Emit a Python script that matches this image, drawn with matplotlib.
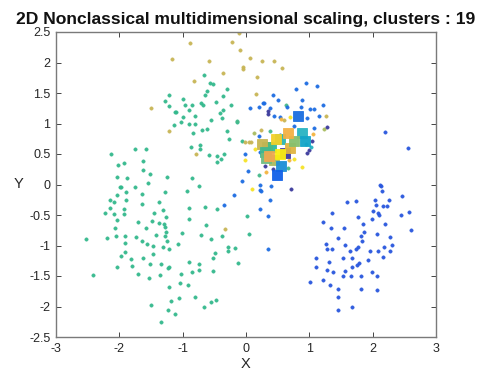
import matplotlib
matplotlib.use("Agg")
import matplotlib.pyplot as plt

plt.rcParams["font.family"] = ["Liberation Sans", "DejaVu Sans"]
plt.rcParams["axes.unicode_minus"] = False

title = "2D Nonclassical multidimensional scaling, clusters : 19"
x_ticks = [-3, -2, -1, 0, 1, 2, 3]
y_ticks = [-2.5, -2, -1.5, -1, -0.5, 0, 0.5, 1, 1.5, 2, 2.5]
x_tick_labels = ["-3", "-2", "-1", "0", "1", "2", "3"]
y_tick_labels = ["-2.5", "-2", "-1.5", "-1", "-0.5", "0", "0.5", "1", "1.5", "2", "2.5"]

# cluster member points (x, y)
green_pts = [
    (-1.22, 1.47), (-1.28, 1.37), (-0.99, 1.40), (-0.96, 1.31), (-1.21, 1.28), (-1.12, 1.19),
    (-1.10, 1.19), (-0.99, 1.11), (-1.03, 1.02), (-1.13, 0.97), (-1.75, 0.59), (-1.58, 0.59),
    (-2.13, 0.50), (-1.62, 0.39), (-2.02, 0.32), (-1.92, 0.35), (-1.63, 0.24), (-1.51, 0.18),
    (-2.04, 0.13), (-1.88, 0.11), (-1.25, 0.12), (-1.54, 0.02),
    (-0.67, 1.80), (-0.57, 1.66), (-0.52, 1.65), (-0.30, 1.56), (-0.61, 1.54), (-0.37, 1.45),
    (-0.65, 1.46), (-0.47, 1.36), (-0.86, 1.30), (-0.71, 1.34), (-0.68, 1.31), (-0.24, 1.30),
    (-0.90, 1.22), (-0.36, 1.22), (-0.41, 1.18), (-0.38, 1.09), (-0.80, 1.13), (-0.56, 1.05),
    (-0.14, 1.03), (-0.90, 0.99), (-0.81, 1.00), (-0.70, 0.90), (-0.61, 0.91), (-0.84, 0.84),
    (-0.30, 0.87), (-0.27, 0.75), (-0.06, 0.71), (-0.72, 0.65), (-0.73, 0.59), (-0.87, 0.62),
    (-0.59, 0.49), (-0.46, 0.47), (-0.34, 0.50), (-0.39, 0.42), (-0.46, 0.37), (-0.85, 0.11),
    (-1.99, -0.04), (-1.97, -0.04), (-1.76, -0.04), (-1.89, -0.12), (-1.28, -0.12), (-2.03, -0.18),
    (-1.65, -0.16), (-2.14, -0.25), (-2.08, -0.29), (-1.89, -0.25), (-1.38, -0.28), (-1.64, -0.32),
    (-2.14, -0.39), (-1.92, -0.40), (-1.31, -0.42), (-2.22, -0.47), (-2.08, -0.48), (-1.92, -0.49),
    (-1.46, -0.47), (-1.26, -0.54), (-2.03, -0.59), (-1.70, -0.61), (-1.49, -0.60), (-1.38, -0.63),
    (-1.30, -0.65), (-1.28, -0.69), (-1.58, -0.72), (-2.07, -0.72), (-1.26, -0.78), (-1.01, -0.79),
    (-1.42, -0.82), (-1.28, -0.84), (-2.52, -0.89), (-2.19, -0.87), (-2.05, -0.85), (-1.91, -0.85),
    (-1.73, -0.86), (-1.65, -0.93), (-1.24, -0.93), (-1.91, -0.96), (-1.56, -0.97), (-1.07, -0.98),
    (-1.47, -1.01), (-1.31, -1.03), (-1.21, -1.05), (-1.91, -1.10), (-1.47, -1.14), (-1.98, -1.18),
    (-1.82, -1.22), (-1.63, -1.20), (-1.51, -1.30), (-1.35, -1.30), (-2.03, -1.35), (-1.80, -1.34),
    (-1.23, -1.37), (-1.21, -1.35), (-1.71, -1.46), (-2.42, -1.48), (-1.36, -1.49), (-1.02, -1.47),
    (-1.53, -1.54), (-1.05, -1.62), (-1.21, -1.68), (-1.06, -1.86), (-1.19, -1.91), (-1.50, -1.97),
    (-1.23, -2.05), (-1.12, -2.12), (-1.35, -2.25),
    (-0.74, -0.02), (-0.93, -0.10), (-0.90, -0.38), (-0.64, -0.37), (-0.46, -0.40), (0.02, -0.52),
    (-0.90, -0.57), (-0.63, -0.66), (-0.71, -0.82), (-0.38, -0.84), (0.04, -0.81), (-0.55, -0.90),
    (-0.28, -1.03), (-0.17, -1.04), (-0.28, -1.09), (-0.49, -1.12), (-0.52, -1.20), (-0.13, -1.28),
    (-0.90, -1.27), (-0.75, -1.31), (-0.86, -1.43), (-0.75, -1.40), (-0.52, -1.41), (-0.92, -1.65),
    (-0.81, -1.84), (-0.56, -1.93), (-0.47, -1.90), (-0.66, -2.01),
]
teal_green_pts = [(0.63, 1.30), (0.38, 0.88), (0.66, 0.27), (-0.15, 1.04), (0.20, 0.16)]
olive_pts = [
    (-1.17, 2.06), (-1.50, 1.25), (-1.21, 0.88), (-0.11, 2.49), (-0.88, 2.32), (-0.22, 2.34),
    (-0.09, 2.20), (-0.58, 2.02), (0.06, 2.08), (0.26, 2.02), (0.44, 2.02), (-0.04, 1.93),
    (-0.05, 1.89), (0.57, 1.91), (-0.36, 1.82), (0.18, 1.77), (-0.82, 1.69), (0.16, 1.48),
    (-0.79, 0.50), (-0.02, 0.69), (0.23, 0.90), (1.27, 1.13), (-0.33, -0.73), (0.05, 0.69),
    (0.08, 0.70), (0.60, 1.05),
]
light_olive_pts = [(0.12, 0.84), (1.23, 0.91)]
blue_upper_pts = [
    (0.95, 1.66), (0.79, 1.57), (0.43, 1.46), (0.51, 1.38), (0.88, 1.38), (0.27, 1.34),
    (0.06, 1.25), (0.21, 1.27), (0.38, 1.25), (0.44, 1.12), (0.53, 1.10), (0.65, 1.27),
    (0.87, 1.27), (1.01, 1.23), (1.08, 1.23), (0.76, 0.96), (1.07, 0.93), (0.20, 0.80),
    (0.53, 0.81), (-0.02, 0.50), (0.22, 0.54), (0.03, 0.22), (-0.07, 0.06), (1.12, 1.61),
    (1.21, 1.31), (1.16, 1.13), (0.96, 1.09), (0.22, 0.00), (0.22, -0.09), (0.39, -0.02),
    (-0.19, -0.18), (-0.34, -0.34), (0.22, -0.40), (0.34, -0.52), (0.38, -0.25), (0.23, -0.10),
    (0.35, -1.06), (0.28, 1.34),
]
blue_lower_pts = [
    (2.13, -0.02), (2.14, -0.11), (2.47, -0.19), (1.59, -0.29), (1.73, -0.27), (2.03, -0.25),
    (2.26, -0.25), (2.06, -0.34), (2.17, -0.36), (2.23, -0.36), (2.01, -0.43), (2.08, -0.46),
    (2.10, -0.50), (2.57, -0.45), (2.45, -0.50), (1.35, -0.46), (1.77, -0.54), (1.99, -0.56),
    (1.21, -0.62), (1.84, -0.64), (2.19, -0.65), (1.34, -0.71), (1.55, -0.72), (2.61, -0.75),
    (1.86, -0.78), (2.07, -0.81), (1.82, -0.85), (2.28, -0.86), (1.46, -0.88), (1.83, -0.93),
    (1.27, -0.97), (1.57, -0.99), (2.30, -0.99), (1.77, -1.03), (1.73, -1.06), (2.18, -1.03),
    (1.28, -1.06), (1.35, -1.06), (1.64, -1.09), (1.95, -1.09), (2.08, -1.09), (2.28, -1.09),
    (2.16, -1.19), (1.11, -1.20), (1.53, -1.20), (1.67, -1.20), (1.92, -1.23), (1.31, -1.27),
    (1.78, -1.29), (1.75, -1.32), (1.67, -1.36), (1.11, -1.36), (1.28, -1.40), (1.37, -1.43),
    (1.56, -1.41), (1.99, -1.43), (1.53, -1.50), (1.66, -1.50), (1.81, -1.50), (2.07, -1.50),
    (1.21, -1.56), (1.32, -1.64), (1.45, -1.71), (1.81, -1.72), (2.07, -1.73), (1.46, -1.84),
    (1.45, -2.06), (1.67, -2.00), (1.01, -1.60), (2.19, 0.86), (2.55, 0.60), (2.12, 0.00),
]
navy_pts = [
    (0.34, 1.20), (0.34, 1.16), (1.28, 0.94), (1.04, 0.72), (0.99, 0.57), (0.96, 0.52),
    (0.71, -0.07), (0.63, 0.57), (0.30, 0.30), (0.43, 0.25),
]
yellow_pts = [
    (-0.01, 0.40), (0.09, -0.08), (0.89, 0.29), (0.76, 0.42), (0.14, 0.58), (0.70, 1.11),
]
orange_pts = [(0.55, 1.07), (0.32, 0.20), (0.68, 0.40), (1.06, 0.82)]
cyan_pts = [(1.02, 0.62), (0.95, 0.66)]

# cluster centroids (x, y) and their colours, drawn back to front
centroid_x = [0.62, 0.54, 0.40, 0.33, 0.82, 0.67, 0.88, 0.93, 0.75, 0.26, 0.47,
              0.30, 0.31, 0.37, 0.53, 0.56, 0.49, 0.44, 0.70]
centroid_y = [0.52, 0.75, 0.62, 0.62, 1.13, 0.84, 0.84, 0.71, 0.72, 0.66, 0.74,
              0.54, 0.44, 0.46, 0.50, 0.30, 0.15, 0.40, 0.60]
centroid_colors = ["#3d3aa0", "#2bb6b0", "#30b8a0", "#4dba80", "#1a6ee0", "#f4b043",
                   "#27b3c2", "#12a4c8", "#86c06c", "#c6b552", "#f3d128", "#40b890",
                   "#70bc80", "#f0a850", "#fbee10", "#1d8ed6", "#1060e8", "#a8bc60",
                   "#e0b440"]

fig = plt.figure(figsize=(4.84, 3.78), dpi=100)
ax = fig.add_axes([56 / 484, 41 / 378, 380 / 484, 305 / 378])

groups = [
    (green_pts, "#33b98c"),
    (teal_green_pts, "#45b98a"),
    (olive_pts, "#c8b555"),
    (light_olive_pts, "#a8bc60"),
    (blue_upper_pts, "#1c6ce2"),
    (blue_lower_pts, "#2856de"),
    (navy_pts, "#3b3a9c"),
    (yellow_pts, "#f6e326"),
    (orange_pts, "#f3b440"),
    (cyan_pts, "#22b2c0"),
]
for pts, col in groups:
    xs = [p[0] for p in pts]
    ys = [p[1] for p in pts]
    ax.plot(xs, ys, "o", ms=2.4, color=col, mec=col, mew=0.4, alpha=0.95, zorder=2)

order = [0, 1, 2, 3, 17, 18, 4, 6, 7, 8, 5, 9, 10, 11, 12, 13, 14, 15, 16]
for i in order:
    ax.plot(centroid_x[i], centroid_y[i], "s", ms=7.8, color=centroid_colors[i],
            mec=centroid_colors[i], mew=0.6, alpha=0.95, zorder=3)

ax.set_xlim(-3, 3)
ax.set_ylim(-2.5, 2.5)
ax.set_xticks(x_ticks)
ax.set_xticklabels(x_tick_labels)
ax.set_yticks(y_ticks)
ax.set_yticklabels(y_tick_labels)
ax.tick_params(direction="in", length=3.5, width=0.6, top=True, right=True,
               labelsize=9, colors="#262626", pad=4)
for sp in ax.spines.values():
    sp.set_color("#7a7a7a")
    sp.set_linewidth(1.0)

ax.set_xlabel("X", fontsize=10.5, color="#262626", labelpad=2)
ax.set_ylabel("Y", fontsize=10.5, color="#262626", rotation=0, labelpad=8, va="center")
ax.set_title(title, fontsize=12.6, fontweight="bold", color="#111111", pad=6)

fig.savefig("out.png", dpi=100)
